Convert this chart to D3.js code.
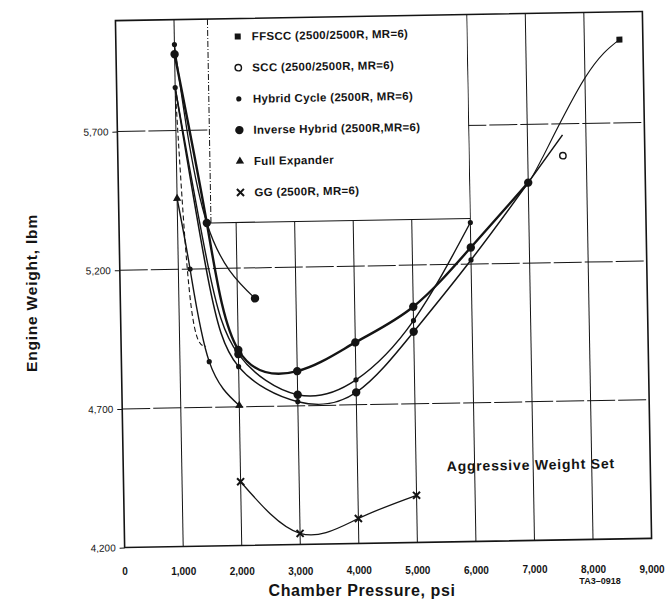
<!DOCTYPE html>
<html>
<head>
<meta charset="utf-8">
<script src="https://cdn.jsdelivr.net/npm/d3@7.9.0/dist/d3.min.js"></script>
<style>
  body { margin: 0; background: #fff; }
  svg { display: block; font-family: "Liberation Sans", Arial, sans-serif; }
</style>
</head>
<body>
<svg id="chart" width="671" height="605"></svg>
<script>
// ---------------------------------------------------------------------------
// Data: [chamber pressure psi, engine weight lbm, marker]
// marker: 'c' big dot, 'd' small dot, 's' square, 'o' open circle,
//         't' triangle, 'x' cross, '' = curve only
// ---------------------------------------------------------------------------
const xTicks = [0, 1000, 2000, 3000, 4000, 5000, 6000, 7000, 8000, 9000];
const yTicks = [4200, 4700, 5200, 5700];

const ffsccLow  = [[1000, 6010, 'd'], [1500, 5365, 'c'], [2300, 5090, 'c']];
const ffsccHigh = [[7000, 5490, ''], [7240, 5575, ''], [8000, 5864, ''], [8600, 6000, 's']];
const sccPoint  = [[7600, 5585, 'o']];
const invHybrid = [[1000, 5975, 'c'], [1500, 5365, ''], [2000, 4905, 'c'], [3000, 4825, 'c'],
                   [4000, 4925, 'c'], [5000, 5050, 'c'], [6000, 5260, 'c'], [7000, 5490, 'c']];
const hybridA   = [[1000, 5855, 'd'], [1500, 5220, ''], [2000, 4890, 'c'], [3000, 4740, 'c'],
                   [4000, 4790, 'd'], [5000, 5000, 'd'], [6000, 5350, 'd']];
const hybridB   = [[1000, 5855, ''], [1500, 5170, ''], [2000, 4845, 'd'], [3000, 4715, 'd'],
                   [4000, 4745, 'c'], [5000, 4960, 'c'], [6000, 5215, 'd'], [7000, 5490, ''],
                   [7600, 5660, '']];
const dashedBranch = [[1000, 5855, ''], [1200, 5080, ''], [1450, 4920, '']];
const fullExpander = [[1000, 5455, 't'], [1200, 5200, 'd'], [1500, 4865, 'd'], [2000, 4705, 't']];
const gg = [[2000, 4430, 'x'], [3000, 4240, 'x'], [4000, 4290, 'x'], [5000, 4370, 'x']];

const legendLabels = [
  'FFSCC (2500/2500R, MR=6)',
  'SCC (2500/2500R, MR=6)',
  'Hybrid Cycle (2500R, MR=6)',
  'Inverse Hybrid (2500R,MR=6)',
  'Full Expander',
  'GG (2500R, MR=6)'
];
const legendMarks = ['s', 'o', 'd', 'c', 't', 'x'];

// ---------------------------------------------------------------------------
// Layout
// ---------------------------------------------------------------------------
const svg = d3.select('#chart');
const L = 120, R = 647, T = 16, B = 543;
const x = d3.scaleLinear().domain([0, 9000]).range([L, R]);
const y = d3.scaleLinear().domain([4200, 6100]).range([B, T]);
const ink = '#141414';

// the scanned page sits slightly crooked
const g = svg.append('g').attr('transform', 'rotate(-1, 383.5, 279.5)');

// grid
g.append('g').selectAll('line').data(xTicks.slice(1, -1)).join('line')
  .attr('x1', d => x(d)).attr('x2', d => x(d))
  .attr('y1', T).attr('y2', B)
  .attr('stroke', ink).attr('stroke-width', 1);
g.append('g').selectAll('line').data(yTicks.slice(1)).join('line')
  .attr('x1', L).attr('x2', R)
  .attr('y1', d => y(d)).attr('y2', d => y(d))
  .attr('stroke', ink).attr('stroke-width', 1)
  .attr('stroke-dasharray', '28,3');

// legend box (covers grid, right edge is the 6,000 grid line)
const lgX = 212, lgB = 220;
g.append('rect')
  .attr('x', lgX).attr('y', T).attr('width', x(6000) - 0.6 - lgX).attr('height', lgB - T)
  .attr('fill', '#fff');
g.append('line')
  .attr('x1', lgX).attr('x2', lgX).attr('y1', T).attr('y2', lgB)
  .attr('stroke', ink).attr('stroke-width', 1).attr('stroke-dasharray', '6,2,1,2');
g.append('line')
  .attr('x1', lgX).attr('x2', x(6000)).attr('y1', lgB).attr('y2', lgB)
  .attr('stroke', ink).attr('stroke-width', 1.2);

// axes
const yAxis = g.append('g').attr('transform', `translate(${L},0)`)
  .call(d3.axisLeft(y).tickValues(yTicks).tickSize(5).tickPadding(4).tickFormat(d3.format(',')));
yAxis.select('.domain').remove();
yAxis.selectAll('line').attr('stroke', ink);
yAxis.selectAll('text').attr('font-size', 10).attr('fill', ink)
  .attr('font-family', '"Liberation Sans", Arial, sans-serif');

// tick labels sit almost level on the page even though the frame is tilted
const xAxis = g.append('g').attr('transform', `translate(0,${B})`)
  .call(d3.axisBottom(x).tickValues(xTicks).tickSize(0).tickPadding(24).tickFormat(d3.format(',')));
xAxis.select('.domain').remove();
xAxis.selectAll('text').attr('font-size', 10).attr('font-weight', 'bold').attr('fill', ink)
  .attr('font-family', '"Liberation Sans", Arial, sans-serif')
  .attr('transform', d => `rotate(1) translate(0,${(x(d) - 383.5) * 0.012})`);

// frame
g.append('rect')
  .attr('x', L).attr('y', T).attr('width', R - L).attr('height', B - T)
  .attr('fill', 'none').attr('stroke', ink).attr('stroke-width', 1.6);

// curves
const line = d3.line()
  .x(d => x(d[0])).y(d => y(d[1]))
  .curve(d3.curveNatural);

const series = [
  { data: gg, w: 1.3 },
  { data: fullExpander, w: 1.4 },
  { data: dashedBranch, w: 1.1, dash: '5,3' },
  { data: hybridB, w: 1.5 },
  { data: hybridA, w: 1.4 },
  { data: invHybrid, w: 2.4 },
  { data: ffsccLow, w: 1.3 },
  { data: ffsccHigh, w: 1.1 },
  { data: sccPoint, w: 0 }
];

series.filter(s => s.data.length > 1).forEach(s => {
  g.append('path')
    .attr('d', line(s.data))
    .attr('fill', 'none')
    .attr('stroke', ink)
    .attr('stroke-width', s.w)
    .attr('stroke-dasharray', s.dash || null);
});

function drawMark(sel, type, cx, cy) {
  if (type === 'c') {
    sel.append('circle').attr('cx', cx).attr('cy', cy).attr('r', 4.2).attr('fill', ink);
  } else if (type === 'd') {
    sel.append('circle').attr('cx', cx).attr('cy', cy).attr('r', 2.6).attr('fill', ink);
  } else if (type === 's') {
    sel.append('rect').attr('x', cx - 3).attr('y', cy - 3).attr('width', 6).attr('height', 6).attr('fill', ink);
  } else if (type === 'o') {
    sel.append('circle').attr('cx', cx).attr('cy', cy).attr('r', 3.2)
      .attr('fill', '#fff').attr('stroke', ink).attr('stroke-width', 1.4);
  } else if (type === 't') {
    sel.append('path').attr('d', d3.symbol(d3.symbolTriangle, 30)())
      .attr('transform', `translate(${cx},${cy})`).attr('fill', ink);
  } else if (type === 'x') {
    sel.append('path').attr('d', d3.symbol(d3.symbolTimes, 34)())
      .attr('transform', `translate(${cx},${cy})`).attr('fill', 'none')
      .attr('stroke', ink).attr('stroke-width', 2);
  }
}

const marks = g.append('g');
series.forEach(s => {
  s.data.filter(d => d[2]).forEach(d => drawMark(marks, d[2], x(d[0]), y(d[1])));
});

// legend entries
const lg = g.append('g');
legendLabels.forEach((label, i) => {
  const cy = 34 + i * 31.2;
  drawMark(lg, legendMarks[i], 242, cy);
  lg.append('text')
    .attr('x', 256).attr('y', cy).attr('dy', '0.35em')
    .attr('font-size', 11.5).attr('font-weight', 'bold').attr('letter-spacing', 0.3)
    .attr('fill', ink).text(label);
});

// annotation inside plot
g.append('text')
  .attr('x', x(6960)).attr('y', y(4455))
  .attr('text-anchor', 'middle')
  .attr('font-size', 14).attr('font-weight', 'bold').attr('letter-spacing', 0.8)
  .attr('fill', ink).text('Aggressive Weight Set');

// axis titles
svg.append('text')
  .attr('transform', 'translate(37,293) rotate(-90)')
  .attr('text-anchor', 'middle')
  .attr('font-size', 15.5).attr('font-weight', 'bold').attr('letter-spacing', 0.8)
  .attr('fill', ink).text('Engine Weight, lbm');

svg.append('text')
  .attr('x', 362).attr('y', 596)
  .attr('text-anchor', 'middle')
  .attr('font-size', 16).attr('font-weight', 'bold').attr('letter-spacing', 0.6)
  .attr('fill', ink).text('Chamber Pressure, psi');

svg.append('text')
  .attr('x', 600).attr('y', 584)
  .attr('text-anchor', 'middle')
  .attr('font-size', 9).attr('font-weight', 'bold')
  .attr('fill', ink).text('TA3\u20130918');
</script>
</body>
</html>
